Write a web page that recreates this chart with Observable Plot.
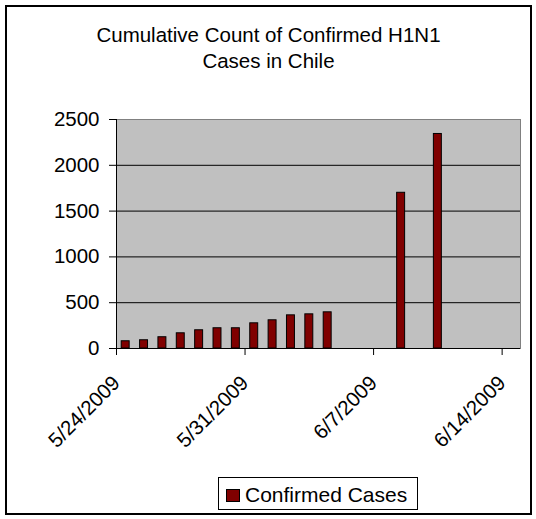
<!DOCTYPE html>
<html>
<head>
<meta charset="utf-8">
<script src="https://cdn.jsdelivr.net/npm/d3@7"></script>
<script src="https://cdn.jsdelivr.net/npm/@observablehq/plot@0.6"></script>
<style>
  body { margin: 0; background: #fff; font-family: "Liberation Sans", Arial, sans-serif; }
  #wrap { position: relative; width: 536px; height: 519px; overflow: hidden; }
  #border { position: absolute; left: 5px; top: 5px; width: 527px; height: 510px; border: 2px solid #000; box-sizing: border-box; }
  #title { position: absolute; left: 5px; width: 527px; top: 21.6px; text-align: center; font-size: 20.5px; line-height: 26.7px; color: #000; }
  #chart { position: absolute; left: 0; top: 0; }
  #legend { position: absolute; left: 218px; top: 477px; width: 200px; height: 33px; border: 1px solid #000; box-sizing: border-box; background: #fff; }
  #legend .sw { position: absolute; left: 7px; top: 10.5px; width: 14px; height: 13px; background: #800000; border: 1px solid #000; box-sizing: border-box; }
  #legend .lb { position: absolute; left: 26px; top: 5.6px; font-size: 21px; line-height: 21px; white-space: nowrap; color: #000; }
</style>
</head>
<body>
<div id="wrap">
  <div id="chart"></div>
  <div id="border"></div>
  <div id="title">Cumulative Count of Confirmed H1N1<br>Cases in Chile</div>
  <div id="legend"><div class="sw"></div><div class="lb">Confirmed Cases</div></div>
</div>
<script>
const dates = ["2009-05-24","2009-05-25","2009-05-26","2009-05-27","2009-05-28","2009-05-29","2009-05-30","2009-05-31","2009-06-01","2009-06-02","2009-06-03","2009-06-04","2009-06-08","2009-06-10"];
const cases = [79, 90, 123, 166, 199, 221, 221, 275, 308, 362, 373, 395, 1700, 2342];
const xTickDates = ["2009-05-24","2009-05-31","2009-06-07","2009-06-14"];
const yTicks = [0, 500, 1000, 1500, 2000, 2500];
const xDomain = ["2009-05-24", "2009-06-15"];
const seriesName = "Confirmed Cases";

const data = dates.map((d, i) => ({date: new Date(d + "T00:00:00Z"), cases: cases[i]}));
const xd = xDomain.map(d => new Date(d + "T00:00:00Z"));
const xt = xTickDates.map(d => new Date(d + "T00:00:00Z"));

const chart = Plot.plot({
  width: 536,
  height: 470,
  marginTop: 119,
  marginLeft: 116,
  marginRight: 16,
  marginBottom: 122,
  style: {fontFamily: "'Liberation Sans', Arial, sans-serif", fontSize: "20.5px", background: "transparent", color: "#000", overflow: "visible"},
  x: {type: "utc", domain: xd},
  y: {domain: [0, 2500]},
  marks: [
    Plot.frame({fill: "#c0c0c0", stroke: "#808080"}),
    Plot.ruleY(yTicks.slice(1, -1), {stroke: "#000", strokeWidth: 1}),
    Plot.rectY(data, {x: "date", y: "cases", interval: d3.utcDay, fill: "#800000", stroke: "#000", strokeWidth: 1, insetLeft: 5.2, insetRight: 5.2}),
    Plot.ruleX([xd[0]], {stroke: "#000"}),
    Plot.ruleY([0], {stroke: "#000"}),
    Plot.axisY({ticks: yTicks, tickSize: 7, tickPadding: 10, label: null, tickFormat: d => String(d)}),
    Plot.axisX({ticks: xt, tickSize: 7, tickPadding: 24, tickRotate: -45, label: null, tickFormat: d3.utcFormat("%-m/%-d/%Y")})
  ]
});
document.getElementById("chart").appendChild(chart);
</script>
</body>
</html>
